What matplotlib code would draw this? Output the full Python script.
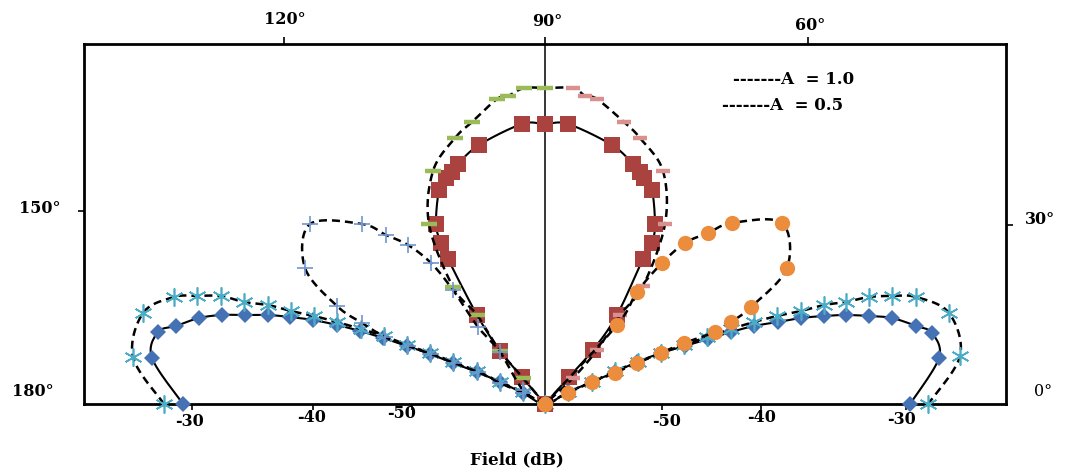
import numpy as np
import matplotlib
matplotlib.use("Agg")
import matplotlib.pyplot as plt

# pattern, in plot units (centre of the base = 0,0)
# A = 1.0 side lobes (solid, diamonds), from 180 deg through the centre to 0 deg
side_a1_x = [-36.2, -39.3, -38.7, -36.9, -34.6, -32.3, -30.0, -27.7, -25.5, -23.2, -20.8,
             -18.5, -16.2, -13.8, -11.5, -9.2, -6.8, -4.5, -2.2, 0.0,
             2.3, 4.7, 7.0, 9.2, 11.6, 14.0, 16.3, 18.6, 20.9, 23.3, 25.6, 27.9,
             30.1, 32.4, 34.7, 37.1, 38.7, 39.4, 36.5]
side_a1_y = [0.0, 4.6, 7.2, 7.8, 8.6, 8.9, 8.9, 8.9, 8.7, 8.4, 7.9,
             7.3, 6.6, 5.8, 5.0, 4.1, 3.2, 2.2, 1.1, 0.0,
             1.2, 2.2, 3.2, 4.2, 5.1, 5.8, 6.5, 7.2, 7.8, 8.2, 8.6, 8.8,
             8.9, 8.8, 8.6, 7.8, 7.1, 4.6, 0.0]

# A = 0.5 side lobes (dashed, asterisks)
side_a05_x = [-38.1, -41.2, -40.2, -37.1, -34.8, -32.4, -30.1, -27.7, -25.4, -23.1, -20.8,
              -18.4, -16.1, -13.8, -11.5, -9.2, -6.8, -4.5, -2.2, 0.0,
              2.3, 4.7, 7.0, 9.3, 11.6, 13.9, 16.2, 18.6, 20.9, 23.2, 25.6, 27.9,
              30.1, 32.4, 34.7, 37.1, 40.4, 41.5, 38.3]
side_a05_y = [0.0, 4.7, 9.1, 10.7, 10.8, 10.8, 10.2, 9.9, 9.3, 8.8, 8.2,
              7.5, 6.8, 5.9, 5.1, 4.2, 3.3, 2.2, 1.2, 0.0,
              1.2, 2.2, 3.3, 4.2, 5.1, 5.9, 6.7, 7.5, 8.2, 8.8, 9.3, 9.9,
              10.2, 10.7, 10.8, 10.7, 9.1, 4.8, 0.0]

# A = 1.0 main lobe (solid, squares)
main_a1_x = [0.0, -2.3, -4.5, -6.8, -9.7, -10.4, -10.9, -10.6, -9.9, -9.3, -8.7, -6.6,
             -2.3, 0.0, 2.3, 6.7, 8.8, 9.5, 9.9, 10.7, 11.0, 10.7, 9.8, 7.2, 4.8, 2.4, 0.0]
main_a1_y = [0.0, 2.7, 5.3, 8.9, 14.5, 16.1, 18.0, 21.4, 22.6, 23.2, 24.0, 25.9,
             28.0, 28.0, 28.0, 25.9, 24.0, 23.2, 22.6, 21.4, 18.0, 16.1, 14.5, 8.9, 5.4, 2.7, 0.0]

# A = 0.5 main lobe (dashed), left half green, right half pink
main_a05_left_x = [0.0, -2.2, -4.5, -6.8, -9.2, -11.6, -11.2, -9.0, -7.3, -4.8, -3.7, -2.1, 0.0]
main_a05_left_y = [0.0, 2.6, 5.3, 8.9, 11.7, 18.0, 23.3, 26.6, 28.2, 30.5, 30.8, 31.6, 31.6]
main_a05_right_x = [2.8, 4.0, 5.2, 7.9, 9.5, 11.8, 12.0, 9.8, 7.5, 5.2, 2.8, 0.0]
main_a05_right_y = [31.6, 30.8, 30.5, 28.2, 26.6, 23.3, 18.0, 11.8, 8.9, 5.4, 2.6, 0.0]

# A = 0.5 middle lobes (dashed): left with pluses, right with circles
mid_left_x = [0.0, -2.2, -4.5, -6.7, -9.2, -11.4, -13.7, -15.9, -18.3, -23.5, -24.0,
              -20.8, -18.3, -16.0, -13.7, -11.4, -9.1, -6.7, -4.5, -2.2, 0.0]
mid_left_y = [0.0, 1.4, 5.2, 7.7, 11.4, 14.1, 15.9, 16.9, 18.0, 18.0, 13.6,
              9.8, 8.1, 6.7, 5.8, 5.0, 4.1, 3.2, 2.1, 1.1, 0.0]
mid_right_x = [0.0, 7.2, 9.2, 11.7, 14.0, 16.3, 18.7, 23.7, 24.2, 20.6, 18.6, 17.0,
               13.9, 11.6, 9.2, 7.0, 4.7, 2.3, 0.0]
mid_right_y = [0.0, 7.9, 11.2, 14.1, 16.1, 17.1, 18.1, 18.1, 13.6, 9.7, 8.2, 7.2,
               6.1, 5.1, 4.1, 3.1, 2.2, 1.1, 0.0]

bottom_ticks = [-35.3, -23.2, -13.3, 11.7, 21.6, 36.1]
bottom_labels = ['-30', '-40', '-50', '-50', '-40', '-30']
top_ticks = [-26.1, 0.0, 26.3]
top_labels = ['120°', '90°', '60°']


def smooth(xs, ys, n=14):
    # catmull-rom through the points, like the smoothed lines of the original
    pts = np.column_stack([xs, ys]).astype(float)
    p = np.vstack([pts[0], pts, pts[-1]])
    t = np.linspace(0, 1, n, endpoint=False)[:, None]
    out = []
    for i in range(1, len(p) - 2):
        p0, p1, p2, p3 = p[i - 1], p[i], p[i + 1], p[i + 2]
        seg = 0.5 * (2 * p1 + (-p0 + p2) * t + (2 * p0 - 5 * p1 + 4 * p2 - p3) * t ** 2
                     + (-p0 + 3 * p1 - 3 * p2 + p3) * t ** 3)
        out.append(seg)
    out.append(pts[-1:])
    c = np.vstack(out)
    return c[:, 0], c[:, 1]


W, H = 1067, 475
fig = plt.figure(figsize=(W / 100, H / 100), dpi=100)
ax = fig.add_axes([84 / W, 1 - 404 / H, 922 / W, 360 / H])
ax.set_xlim(-46.1, 46.1)
ax.set_ylim(0, 36)

dash = (0, (3.2, 2))
solid_lw = 1.5
dash_lw = 1.8

ax.axvline(0, color='black', lw=1.1, zorder=1)

# side lobes
x, y = smooth(side_a1_x, side_a1_y)
ax.plot(x, y, color='black', lw=solid_lw, zorder=2, clip_on=False)
ax.plot(side_a1_x, side_a1_y, ls='none', marker='D', ms=7.8, color='#4472b4', mew=0,
        zorder=3, clip_on=False)

x, y = smooth(side_a05_x, side_a05_y)
ax.plot(x, y, color='black', lw=dash_lw, ls=dash, zorder=4, clip_on=False)
ax.plot(side_a05_x, side_a05_y, ls='none', marker=(6, 2, 0), ms=13, mew=1.2,
        color='#4bacc6', zorder=5, clip_on=False)

# main lobes
x, y = smooth(main_a1_x, main_a1_y)
ax.plot(x, y, color='black', lw=solid_lw, zorder=6, clip_on=False)
ax.plot(main_a1_x, main_a1_y, ls='none', marker='s', ms=11.5, mew=0, color='#aa433f',
        zorder=7, clip_on=False)

x, y = smooth(main_a05_left_x + main_a05_right_x, main_a05_left_y + main_a05_right_y)
ax.plot(x, y, color='black', lw=dash_lw, ls=dash, zorder=8, clip_on=False)
ax.plot(main_a05_left_x, main_a05_left_y, ls='none', marker='_', ms=12, mew=3.2,
        color='#9bbb59', zorder=9, clip_on=False)
ax.plot(main_a05_right_x, main_a05_right_y, ls='none', marker='_', ms=10, mew=3.2,
        color='#d9908e', zorder=9, clip_on=False)

# middle lobes
x, y = smooth(mid_left_x, mid_left_y)
ax.plot(x, y, color='black', lw=dash_lw, ls=dash, zorder=10, clip_on=False)
ax.plot(mid_left_x, mid_left_y, ls='none', marker='+', ms=12, mew=1.2, color='#7096d0',
        zorder=11, clip_on=False)

x, y = smooth(mid_right_x, mid_right_y)
ax.plot(x, y, color='black', lw=dash_lw, ls=dash, zorder=10, clip_on=False)
ax.plot(mid_right_x, mid_right_y, ls='none', marker='o', ms=11, mew=0, color='#ec8d3e',
        zorder=11, clip_on=False)

# frame and ticks
for s in ax.spines.values():
    s.set_linewidth(2)
ax.set_xticks(bottom_ticks)
ax.set_xticklabels([])
ax.set_yticks([19.3])
ax.set_yticklabels([])
ax.tick_params(direction='out', length=4, width=1.2)

ax_top = ax.twiny()
ax_top.set_xlim(ax.get_xlim())
ax_top.set_xticks(top_ticks)
ax_top.set_xticklabels([])
ax_top.tick_params(direction='out', length=5, width=1.2)
ax_r = ax.twinx()
ax_r.set_ylim(ax.get_ylim())
ax_r.set_yticks([17.9])
ax_r.set_yticklabels([])
ax_r.tick_params(direction='out', length=5, width=1.2)
for a in (ax_top, ax_r):
    for s in a.spines.values():
        s.set_visible(False)


def px(x, y):
    return x / W, 1 - y / H


font = dict(family='DejaVu Serif', fontsize=11.5, fontweight='bold', ha='center', va='center')

bottom_y = [422, 418, 414, 422, 418, 420]
bottom_px = [190, 312, 402, 667, 762, 902]
for lab, bx, by in zip(bottom_labels, bottom_px, bottom_y):
    fig.text(*px(bx, by), lab, **font)

for lab, tx, ty in zip(top_labels, [285, 547, 810], [20, 22, 25]):
    fig.text(*px(tx, ty), lab, **font)

fig.text(*px(40, 208), '150°', **font)
fig.text(*px(33, 392), '180°', **font)
fig.text(*px(1040, 220), '30°', **font)
fig.text(*px(1043, 391), '0°', **{**font, 'fontweight': 'normal'})
fig.text(*px(517, 460), 'Field (dB)', **{**font, 'fontsize': 12})

fig.text(*px(733, 80), '-------A  = 1.0', **{**font, 'fontsize': 12, 'ha': 'left'})
fig.text(*px(722, 106), '-------A  = 0.5', **{**font, 'fontsize': 12, 'ha': 'left'})

fig.savefig('out.png', dpi=100)
